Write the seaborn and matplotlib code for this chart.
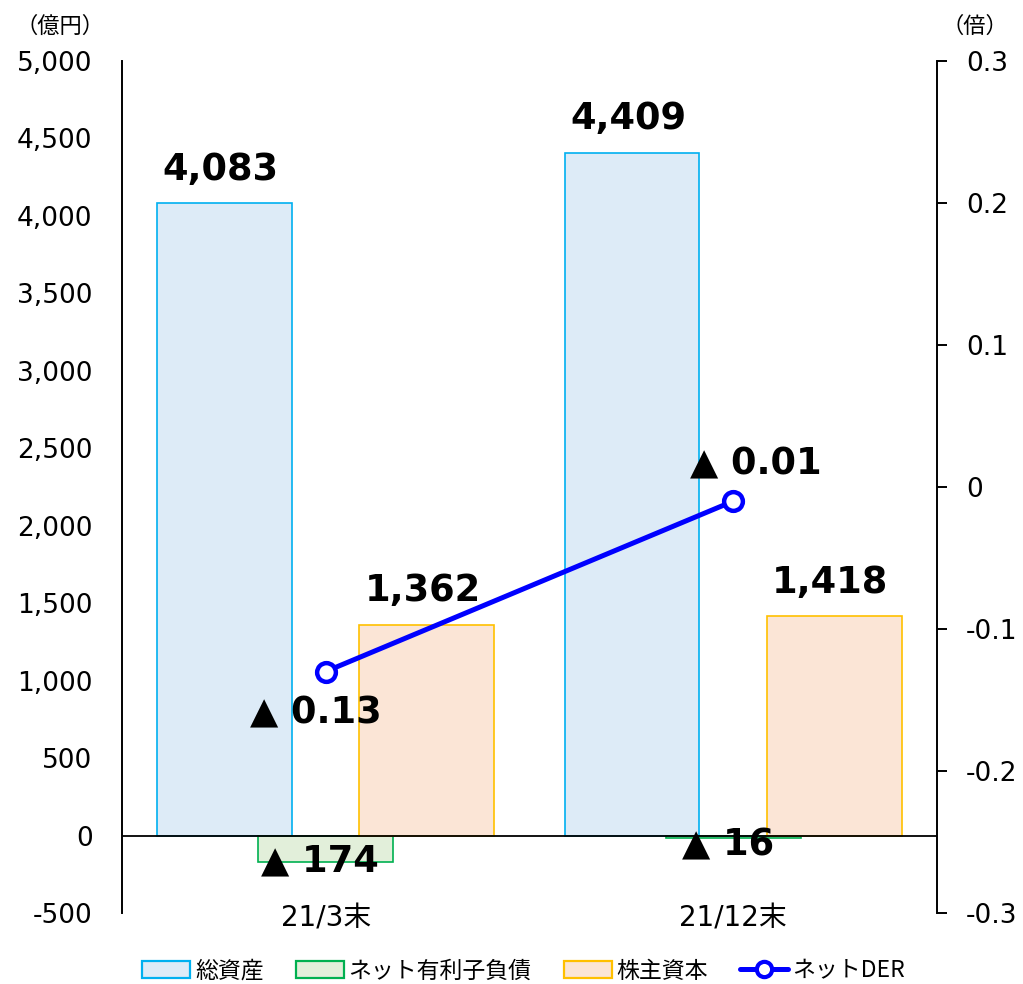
import matplotlib
matplotlib.use("Agg")
import matplotlib.pyplot as plt
from matplotlib.patches import Patch
from matplotlib.lines import Line2D
from matplotlib.ticker import FuncFormatter, MultipleLocator
import seaborn as sns
import pandas as pd

# ---- data -------------------------------------------------------------
categories = ["21/3末", "21/12末"]
series_names = ["総資産", "ネット有利子負債", "株主資本"]
total_assets = [4083, 4409]
net_debt = [-174, -16]
equity = [1362, 1418]
net_der = [-0.13, -0.01]
line_name = "ネットDER"

fill_colors = ["#DDEBF7", "#E2EFDA", "#FBE5D6"]
edge_colors = ["#00B0F0", "#00B050", "#FFC000"]
line_color = "#0000FF"

# ---- style ------------------------------------------------------------
sns.set_style("white")
plt.rcParams["font.family"] = ["DejaVu Sans", "Noto Sans CJK JP"]
plt.rcParams["axes.unicode_minus"] = False
plt.rcParams["text.color"] = "black"

fig = plt.figure(figsize=(10.23, 9.84), dpi=100)
ax = fig.add_axes([0.119, 0.0722, 0.797, 0.8658])

df = pd.DataFrame({
    "category": categories * 3,
    "series": [s for s in series_names for _ in categories],
    "value": total_assets + net_debt + equity,
})

sns.barplot(data=df, x="category", y="value", hue="series",
            hue_order=series_names, order=categories,
            palette=fill_colors, saturation=1, width=0.744, dodge=True,
            errorbar=None, legend=False, ax=ax)

# widen the dodged bars so neighbours overlap horizontally
bar_w = 0.33
for cont, ec in zip(ax.containers, edge_colors):
    for p in cont.patches:
        cx = p.get_x() + p.get_width() / 2
        p.set_width(bar_w)
        p.set_x(cx - bar_w / 2)
        p.set_edgecolor(ec)
        p.set_linewidth(1.2)

ax.set_xlim(-0.5, 1.5)
ax.set_ylim(-500, 5000)
ax.yaxis.set_major_locator(MultipleLocator(500))
ax.yaxis.set_major_formatter(FuncFormatter(lambda v, p: f"{int(round(v)):,}"))
ax.set_xlabel("")
ax.set_ylabel("")
ax.axhline(0, color="black", lw=1.3, zorder=3)

for s in ["top", "right", "bottom"]:
    ax.spines[s].set_visible(False)
ax.spines["left"].set_color("black")
ax.spines["left"].set_linewidth(1.4)
ax.tick_params(axis="y", length=0, pad=21, labelsize=19, colors="black")
ax.tick_params(axis="x", length=0, pad=-6, labelsize=20, colors="black")


def fmt_signed(v, spec):
    s = format(abs(v), spec)
    return f"▲ {s}" if v < 0 else s


# value labels on the bars
neg_offsets = [(-4, 1), (-4, -5)]
for cont, vals in zip(ax.containers, [total_assets, net_debt, equity]):
    for i, (p, v) in enumerate(zip(cont.patches, vals)):
        cx = p.get_x() + p.get_width() / 2
        if v >= 0:
            ax.annotate(fmt_signed(v, ","), (cx, v), xytext=(-3, 11),
                        textcoords="offset points", ha="center", va="bottom",
                        fontsize=26.5, fontweight="bold", color="black")
        else:
            ax.annotate(fmt_signed(v, ","), (cx, v), xytext=neg_offsets[i],
                        textcoords="offset points", ha="center", va="center",
                        fontsize=26.5, fontweight="bold", color="black", zorder=5)

# ---- ratio line on the secondary axis --------------------------------
ax2 = ax.twinx()
sns.lineplot(x=[0, 1], y=net_der, ax=ax2, color=line_color, lw=3.6,
             marker="o", markersize=13.5, markerfacecolor="white",
             markeredgecolor=line_color, markeredgewidth=3.2, legend=False)
ax2.set_xlim(-0.5, 1.5)
ax2.set_ylim(-0.3, 0.3)
ax2.yaxis.set_major_locator(MultipleLocator(0.1))
ax2.yaxis.set_major_formatter(FuncFormatter(lambda v, p: f"{round(v, 1):g}" if abs(v) > 1e-9 else "0"))
for s in ["top", "left", "bottom"]:
    ax2.spines[s].set_visible(False)
ax2.spines["right"].set_color("black")
ax2.spines["right"].set_linewidth(1.4)
ax2.tick_params(axis="y", direction="out", length=7, width=1.4, pad=14,
                labelsize=19, colors="black")
ax2.set_ylabel("")

der_offsets = [(-7, -30), (16, 27)]
for x, v, off in zip([0, 1], net_der, der_offsets):
    ax2.annotate(fmt_signed(v, ".2f"), (x, v), xytext=off,
                 textcoords="offset points", ha="center", va="center",
                 fontsize=26.5, fontweight="bold", color="black")

# ---- unit captions ----------------------------------------------------
fig.text(0.0587, 0.9736, "（億円）", ha="center", va="center", fontsize=16,
         family=["Noto Sans CJK JP"], color="black")
fig.text(0.953, 0.9736, "（倍）", ha="center", va="center", fontsize=16,
         family=["Noto Sans CJK JP"], color="black")

# ---- legend -----------------------------------------------------------
handles = [Patch(facecolor=fc, edgecolor=ec, linewidth=1.6)
           for fc, ec in zip(fill_colors, edge_colors)]
handles.append(Line2D([0], [0], color=line_color, lw=3.6, marker="o",
                      markersize=11, markerfacecolor="white",
                      markeredgecolor=line_color, markeredgewidth=3))
labels = series_names + [line_name]
leg = fig.legend(handles, labels, loc="center", bbox_to_anchor=(0.512, 0.0132),
                 ncol=4, frameon=False, handlelength=2.1,
                 handleheight=0.7, handletextpad=0.2, columnspacing=1.4,
                 prop={"family": ["Noto Sans CJK JP"], "size": 16.5})
for t in leg.get_texts():
    t.set_color("black")

fig.savefig("out.png", dpi=100)
